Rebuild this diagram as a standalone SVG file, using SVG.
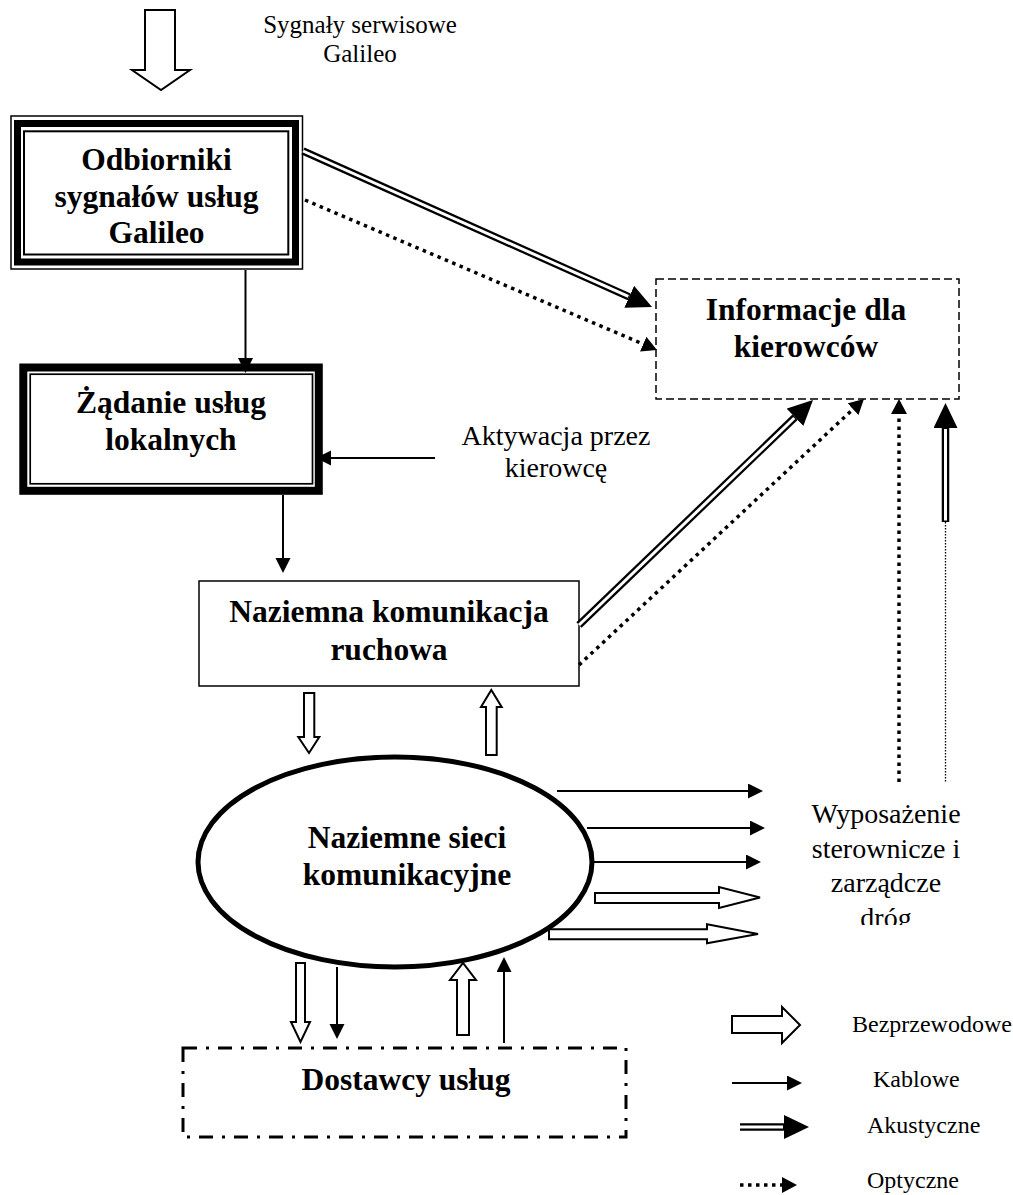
<svg xmlns="http://www.w3.org/2000/svg" width="1013" height="1195" viewBox="0 0 1013 1195">
<style>
.t{font-family:"Liberation Serif","Times New Roman",serif;fill:#000;text-anchor:middle}
.b{font-weight:bold;font-size:31.5px}
.n{font-size:28px}
.lg{font-size:24px;text-anchor:start}
.k{fill:none;stroke:#000;stroke-width:2}
.ak{fill:none;stroke:#000;stroke-width:7.5}
.akw{fill:none;stroke:#fff;stroke-width:3}
.op{fill:none;stroke:#000;stroke-width:3.5;stroke-dasharray:3.5 4.5}
.hol{fill:#fff;stroke:#000;stroke-width:2;stroke-linejoin:miter}
</style>
<defs>
<marker id="mK" markerUnits="userSpaceOnUse" markerWidth="16" markerHeight="16" refX="0" refY="7.5" orient="auto"><path d="M0,0 L15,7.5 L0,15 z" fill="#000"/></marker>
<marker id="mA" markerUnits="userSpaceOnUse" markerWidth="26" markerHeight="25" refX="0" refY="12" orient="auto"><path d="M0,0 L25,12 L0,24 z" fill="#000"/></marker>
<marker id="mO" markerUnits="userSpaceOnUse" markerWidth="16" markerHeight="17" refX="0" refY="8" orient="auto"><path d="M0,0 L15,8 L0,16 z" fill="#000"/></marker>
<clipPath id="cW"><rect x="700" y="780" width="313" height="145"/></clipPath>
</defs>
<rect width="1013" height="1195" fill="#fff"/>

<g id="signals">
<polygon class="hol" points="145,10 175,10 175,70 190,70 161,90 132,70 145,70"/>
<text class="t" style="font-size:25px" x="360" y="33">Sygnały serwisowe</text>
<text class="t" style="font-size:25px" x="360" y="62">Galileo</text>
</g>

<g id="odbiorniki">
<rect x="11" y="116" width="291.5" height="153" fill="#fff" stroke="#000" stroke-width="1.5"/>
<rect x="17.5" y="123.5" width="278" height="138.5" fill="none" stroke="#000" stroke-width="7"/>
<rect x="24" y="131.3" width="264.3" height="123.2" fill="none" stroke="#000" stroke-width="2"/>
<text class="t b" x="156.5" y="170">Odbiorniki</text>
<text class="t b" x="156.5" y="207">sygnałów usług</text>
<text class="t b" x="156.5" y="243">Galileo</text>
</g>

<g id="zadanie">
<rect x="23.3" y="367.5" width="295.5" height="123.3" fill="#fff" stroke="#000" stroke-width="8"/>
<rect x="30.2" y="374.2" width="282.3" height="109.6" fill="none" stroke="#000" stroke-width="1.7"/>
<text class="t b" x="171" y="413">Żądanie usług</text>
<text class="t b" x="171" y="450">lokalnych</text>
</g>

<g id="aktywacja">
<text class="t n" x="556" y="445">Aktywacja przez</text>
<text class="t n" x="556" y="477">kierowcę</text>
</g>

<g id="informacje">
<rect x="656" y="279" width="303" height="120" fill="#fff" stroke="#000" stroke-width="1.5" stroke-dasharray="8 4"/>
<text class="t b" x="806" y="320">Informacje dla</text>
<text class="t b" x="806" y="357">kierowców</text>
</g>

<g id="naziemna-komunikacja">
<rect x="199" y="581" width="380" height="105" fill="#fff" stroke="#000" stroke-width="1.5"/>
<text class="t b" x="389" y="622">Naziemna komunikacja</text>
<text class="t b" x="389" y="660">ruchowa</text>
</g>

<g id="naziemne-sieci">
<ellipse cx="395" cy="862" rx="197" ry="105" fill="#fff" stroke="#000" stroke-width="5"/>
<text class="t b" x="407" y="848">Naziemne sieci</text>
<text class="t b" x="407" y="885">komunikacyjne</text>
</g>

<g id="wyposazenie" clip-path="url(#cW)">
<text class="t n" x="886" y="823">Wyposażenie</text>
<text class="t n" x="886" y="858">sterownicze i</text>
<text class="t n" x="886" y="892">zarządcze</text>
<text class="t n" x="886" y="927">dróg</text>
</g>

<g id="dostawcy">
<rect x="183" y="1048" width="443" height="89" fill="#fff" stroke="#000" stroke-width="3" stroke-dasharray="14 9 3 9"/>
<text class="t b" x="406" y="1090">Dostawcy usług</text>
</g>

<g id="connectors">
<!-- kablowe -->
<path class="k" d="M245.5,270 V358" marker-end="url(#mK)"/>
<path class="k" d="M435,458 H331" marker-end="url(#mK)"/>
<path class="k" d="M283,495 V558" marker-end="url(#mK)"/>
<path class="k" d="M557,791 H748" marker-end="url(#mK)"/>
<path class="k" d="M587,828 H750" marker-end="url(#mK)"/>
<path class="k" d="M594,862 H746" marker-end="url(#mK)"/>
<path class="k" d="M337,967 V1024" marker-end="url(#mK)"/>
<path class="k" d="M504,1043 V972" marker-end="url(#mK)"/>
<!-- akustyczne -->
<path class="ak" d="M303,151 L629.2,296.8" marker-end="url(#mA)"/>
<path class="akw" d="M303,151 L628.3,296.4"/>
<path class="ak" d="M579,625 L795,417.3" marker-end="url(#mA)"/>
<path class="akw" d="M579,625 L794.3,418"/>
<path class="ak" d="M945.5,522 V428" marker-end="url(#mA)"/>
<path class="akw" d="M945.5,520.5 V429"/>
<!-- optyczne -->
<path class="op" d="M305,200 L643.2,344.1" marker-end="url(#mO)"/>
<path class="op" d="M579,665 L853,409.2" marker-end="url(#mO)"/>
<path class="op" d="M899,782 V414" marker-end="url(#mO)"/>
<path fill="none" stroke="#000" stroke-width="1.3" stroke-dasharray="1.5 1.5" d="M945.5,522 V782"/>
<!-- bezprzewodowe -->
<polygon class="hol" points="304,693 314.3,693 314.3,737 319.3,737 309,753 298.3,737 304,737"/>
<polygon class="hol" points="486,755 496.7,755 496.7,707 501.7,707 491.3,690 481,707 486,707"/>
<polygon class="hol" points="595,893 719,893 719,887 760,897.5 719,908 719,903 595,903"/>
<polygon class="hol" points="549,929.3 707,929.3 707,924.3 758,934 707,943.3 707,939.3 549,939.3"/>
<polygon class="hol" points="296,963 305,963 305,1022 310,1022 300.5,1042 291,1022 296,1022"/>
<polygon class="hol" points="457,1035 469,1035 469,980 476,980 463,963 450,980 457,980"/>
</g>

<g id="legend">
<polygon class="hol" points="732,1016 782,1016 782,1007 800,1025 782,1043 782,1033 732,1033"/>
<text class="t lg" x="852" y="1032">Bezprzewodowe</text>
<path class="k" d="M732,1083 H787" marker-end="url(#mK)"/>
<text class="t lg" x="873" y="1087">Kablowe</text>
<path class="ak" d="M740,1127 H784" marker-end="url(#mA)"/>
<path class="akw" d="M740,1127 H783"/>
<text class="t lg" x="867" y="1133">Akustyczne</text>
<path class="op" d="M740,1185 H782" marker-end="url(#mO)"/>
<text class="t lg" x="867" y="1188">Optyczne</text>
</g>
</svg>
